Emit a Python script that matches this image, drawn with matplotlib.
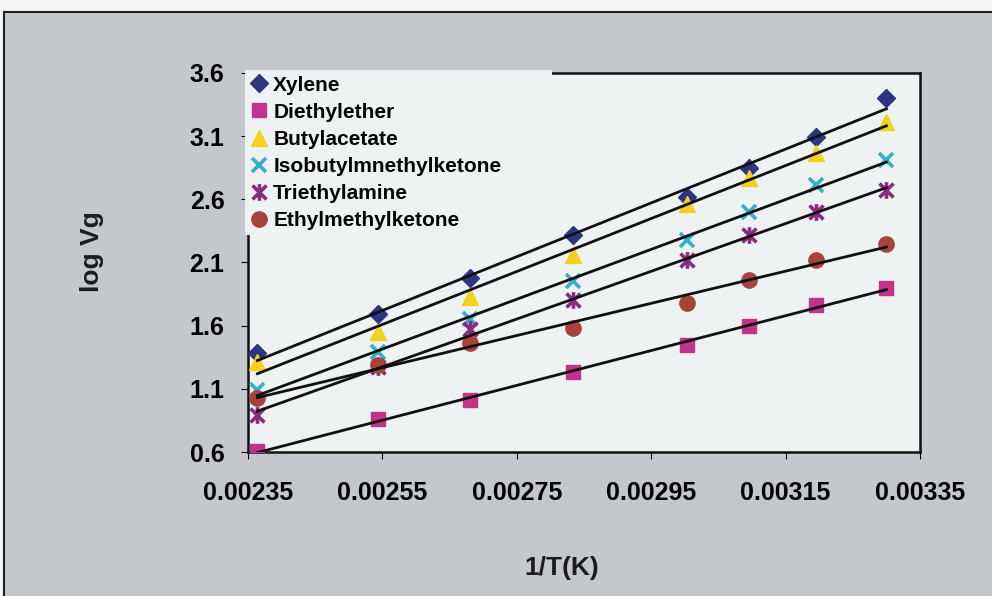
import numpy as np
import matplotlib
matplotlib.use('Agg')
import matplotlib.pyplot as plt
from matplotlib.patches import Rectangle
from matplotlib.path import Path

plt.rcParams['font.family'] = ['Liberation Sans', 'DejaVu Sans']
plt.rcParams['font.weight'] = 'bold'

# 1/T values (K^-1)
inv_t = [0.002364, 0.002544, 0.002681, 0.002833, 0.003003, 0.003096, 0.003195, 0.003300]

names = ['Xylene', 'Diethylether', 'Butylacetate', 'Isobutylmnethylketone',
         'Triethylamine', 'Ethylmethylketone']

xylene = [1.38, 1.69, 1.98, 2.32, 2.62, 2.85, 3.09, 3.40]
diethylether = [0.61, 0.86, 1.01, 1.23, 1.45, 1.60, 1.76, 1.90]
butylacetate = [1.31, 1.55, 1.83, 2.16, 2.56, 2.77, 2.97, 3.21]
isobutyl = [1.09, 1.39, 1.65, 1.95, 2.28, 2.50, 2.71, 2.91]
triethylamine = [0.89, 1.27, 1.57, 1.80, 2.12, 2.32, 2.50, 2.67]
ethylmethylketone = [1.03, 1.29, 1.46, 1.58, 1.78, 1.96, 2.12, 2.25]

# excel style star: an X with a vertical bar through it
star = Path([(-1, -1), (1, 1), (-1, 1), (1, -1), (0, -1.2), (0, 1.2)],
            [Path.MOVETO, Path.LINETO, Path.MOVETO, Path.LINETO, Path.MOVETO, Path.LINETO])

series = [xylene, diethylether, butylacetate, isobutyl, triethylamine, ethylmethylketone]
colors = ['#2e3482', '#c2338a', '#f2d21e', '#33afc6', '#8a2c7c', '#a8423e']
markers = ['D', 's', '^', 'x', star, 'o']
sizes = [9, 10, 11, 10, 12, 11]

xticks = [0.00235, 0.00255, 0.00275, 0.00295, 0.00315, 0.00335]
yticks = [0.6, 1.1, 1.6, 2.1, 2.6, 3.1, 3.6]

fig = plt.figure(figsize=(9.92, 5.96), dpi=100)
fig.patch.set_facecolor('#f4f5f5')
bg = Rectangle((4 / 992, -0.05), 1.2, (596 - 12) / 596 + 0.05,
               transform=fig.transFigure, facecolor='#c4c8cd',
               edgecolor='#202020', lw=1.5, zorder=-5)
fig.add_artist(bg)

ax = fig.add_axes([248 / 992, 1 - 452 / 596, 672 / 992, 379 / 596])
ax.set_zorder(2)
ax.set_facecolor('#eff2f2')

x = np.array(inv_t)
for name, vals, c, m, s in zip(names, series, colors, markers, sizes):
    thin = isinstance(m, Path) or m == 'x'
    ax.plot(x, vals, linestyle='none', marker=m, color=c, markersize=s,
            markeredgewidth=2.6 if thin else 1, label=name, zorder=3)
    k, b = np.polyfit(x, vals, 1)
    ax.plot([x[0], x[-1]], [k * x[0] + b, k * x[-1] + b], color='#111111', lw=2, zorder=4)

ax.set_xlim(0.00235, 0.00335)
ax.set_ylim(0.6, 3.6)
ax.set_xticks(xticks)
ax.set_xticklabels(['%.5f' % v for v in xticks])
ax.set_yticks(yticks)
ax.set_yticklabels(['%.1f' % v for v in yticks])
ax.tick_params(axis='x', direction='out', length=5, pad=16, labelsize=18)
ax.tick_params(axis='y', direction='out', length=5, pad=12, labelsize=18)
for sp in ax.spines.values():
    sp.set_color('#111111')
    sp.set_linewidth(1.8)

fig.text(92 / 992, 1 - 252 / 596, 'log Vg', rotation=90, ha='center', va='center',
         fontsize=19, fontweight='bold', color='#1c1c1c')
fig.text(562 / 992, 1 - 568 / 596, '1/T(K)', ha='center', va='center',
         fontsize=19, fontweight='bold', color='#1c1c1c')

# light patch behind the legend that hides part of the frame, as in the original
cover = Rectangle((-0.005, (452 - 235) / 379), (552 - 245) / 672, (235 - 70) / 379,
                  transform=ax.transAxes, facecolor='#eff2f2', edgecolor='none',
                  clip_on=False, zorder=5)
ax.add_patch(cover)

leg = ax.legend(loc='upper left', bbox_to_anchor=(-0.005, (452 - 70) / 379), borderaxespad=0,
                frameon=False, prop={'size': 15, 'weight': 'bold'},
                handlelength=0.8, handletextpad=0.3, labelspacing=0.39,
                borderpad=0.27, markerscale=1.0)
leg.set_zorder(10)

fig.savefig('out.png', dpi=100, facecolor=fig.get_facecolor())
